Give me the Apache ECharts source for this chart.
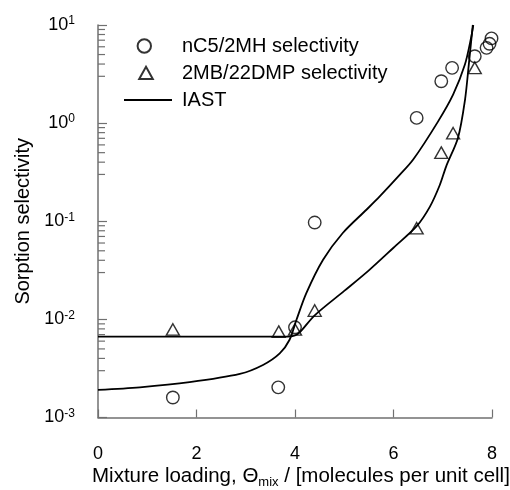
<!DOCTYPE html>
<html>
<head>
<meta charset="utf-8">
<script src="https://cdn.jsdelivr.net/npm/echarts@6/dist/echarts.min.js"></script>
<style>
  html, body { margin: 0; padding: 0; background: #fff; }
  #chart { width: 510px; height: 490px; }
</style>
</head>
<body>
<div id="chart"></div>
<script>
const FONT = '"Liberation Sans", Arial, Helvetica, sans-serif';

// Measured sorption selectivities (open symbols)
const nc5Loading     = [1.52, 3.66, 4.00, 4.40, 6.47, 6.97, 7.19, 7.65, 7.89, 7.95, 7.99];
const nc5Selectivity = [0.0016, 0.00203, 0.0083, 0.097, 1.13, 2.67, 3.66, 4.8, 5.85, 6.43, 7.3];
const mbLoading      = [1.52, 3.67, 4.00, 4.40, 6.47, 6.97, 7.21, 7.65];
const mbSelectivity  = [0.0079, 0.0075, 0.0079, 0.0123, 0.085, 0.50, 0.79, 3.66];

// IAST predictions
const iastNc5Loading     = [0, 0.85, 1.86, 2.88, 3.35, 3.69, 3.89, 4.03, 4.23, 4.57, 4.97, 5.45, 5.72, 6.13, 6.40, 6.90, 7.21, 7.45, 7.58, 7.62];
const iastNc5Selectivity = [0.00191, 0.00203, 0.00229, 0.00278, 0.00343, 0.0045, 0.0062, 0.0099, 0.0185, 0.0405, 0.0759, 0.131, 0.179, 0.298, 0.425, 1.03, 1.95, 3.95, 7.6, 10];
const iastMbLoading      = [0, 3.85, 4.00, 4.10, 4.40, 5.00, 5.50, 6.00, 6.47, 6.74, 6.94, 7.07, 7.31, 7.45, 7.53, 7.61];
const iastMbSelectivity  = [0.00667, 0.00667, 0.00685, 0.0074, 0.0110, 0.0195, 0.0316, 0.0537, 0.089, 0.141, 0.234, 0.363, 0.71, 1.7, 4.0, 10];

// Axis ticks
const xTicks = [0, 2, 4, 6, 8];
const yDecades = [0.001, 0.01, 0.1, 1, 10];
const minorFactors = [3, 4, 5, 6, 7, 8, 9];

const zip = (xs, ys) => xs.map((x, i) => [x, ys[i]]);

const minorTicks = [];
yDecades.slice(0, -1).forEach(d => minorFactors.forEach(f => minorTicks.push([0, d * f])));

const axisGrey = '#707070';

// Legend icons span the full 48x14 icon box (leading moveTos fix the bounds)
const circleIcon = 'path://M0,0 M48,14 M13.6,7 A6.7,6.7 0 1 1 27,7 A6.7,6.7 0 1 1 13.6,7 Z';
const triangleIcon = 'path://M0,0 M48,14 M22,0.8 L28.8,13 L15.2,13 Z';
const lineIcon = 'path://M0,0 M48,14 M0,6.1 H48 V7.9 H0 Z';

const chart = echarts.init(document.getElementById('chart'), null, { renderer: 'canvas' });

chart.setOption({
  animation: false,
  backgroundColor: '#fff',
  textStyle: { fontFamily: FONT, color: '#000' },
  grid: { left: 98, right: 18, top: 25, bottom: 72.5 },
  legend: {
    orient: 'vertical',
    left: 118,
    top: 31,
    itemWidth: 48,
    itemHeight: 14,
    itemGap: 7,
    data: [
      { name: 'nC5/2MH selectivity', icon: circleIcon },
      { name: '2MB/22DMP selectivity', icon: triangleIcon },
      { name: 'IAST', icon: lineIcon, itemStyle: { color: '#000', borderWidth: 0 } }
    ],
    textStyle: { fontSize: 20, fontFamily: FONT, color: '#000', padding: [0, 0, 0, 5] },
    selectedMode: false
  },
  xAxis: {
    type: 'value',
    min: xTicks[0],
    max: xTicks[xTicks.length - 1],
    interval: xTicks[1] - xTicks[0],
    axisLine: { lineStyle: { color: axisGrey, width: 1.5 } },
    axisTick: { inside: true, length: 8, lineStyle: { color: axisGrey, width: 1.2 } },
    axisLabel: { fontSize: 18, fontFamily: FONT, color: '#000', margin: 28 },
    splitLine: { show: false }
  },
  yAxis: {
    type: 'log',
    logBase: 10,
    min: yDecades[0],
    max: yDecades[yDecades.length - 1],
    name: 'Sorption selectivity',
    nameLocation: 'middle',
    nameGap: 65,
    nameTextStyle: { fontSize: 20, fontFamily: FONT, color: '#000' },
    axisLine: { show: true, lineStyle: { color: axisGrey, width: 1.5 } },
    axisTick: { inside: true, length: 9, lineStyle: { color: axisGrey, width: 1.2 } },
    axisLabel: {
      margin: 23,
      formatter: v => '{b|10}{s|' + Math.round(Math.log10(v)) + '}',
      rich: {
        b: { fontSize: 18, fontFamily: FONT, color: '#000', lineHeight: 20 },
        s: { fontSize: 12, fontFamily: FONT, color: '#000', lineHeight: 12, verticalAlign: 'top' }
      }
    },
    splitLine: { show: false }
  },
  graphic: [{
    type: 'text',
    left: 92,
    top: 463,
    style: {
      text: 'Mixture loading, Θ{sub|mix} / [molecules per unit cell]',
      fontSize: 20.5,
      fontFamily: FONT,
      fill: '#000',
      lineHeight: 26,
      rich: {
        sub: { fontSize: 13, fontFamily: FONT, fill: '#000', lineHeight: 13, verticalAlign: 'bottom' }
      }
    }
  }],
  series: [
    {
      name: 'IAST',
      type: 'line',
      data: zip(iastNc5Loading, iastNc5Selectivity),
      symbol: 'none',
      smooth: 0.3,
      lineStyle: { color: '#000', width: 1.8 },
      itemStyle: { color: '#000' },
      z: 2
    },
    {
      name: 'IAST',
      type: 'line',
      data: zip(iastMbLoading, iastMbSelectivity),
      symbol: 'none',
      smooth: 0.3,
      lineStyle: { color: '#000', width: 1.8 },
      itemStyle: { color: '#000' },
      z: 2
    },
    {
      name: 'nC5/2MH selectivity',
      type: 'scatter',
      data: zip(nc5Loading, nc5Selectivity),
      symbol: 'circle',
      symbolSize: 12.5,
      itemStyle: { color: 'rgba(0,0,0,0)', borderColor: '#000', borderWidth: 1.4 },
      z: 3
    },
    {
      name: '2MB/22DMP selectivity',
      type: 'scatter',
      data: zip(mbLoading, mbSelectivity),
      symbol: 'triangle',
      symbolSize: [13, 11.5],
      itemStyle: { color: 'rgba(0,0,0,0)', borderColor: '#000', borderWidth: 1.4 },
      z: 3
    },
    {
      // logarithmic minor ticks along the y axis
      type: 'custom',
      silent: true,
      clip: false,
      data: minorTicks,
      renderItem: (params, api) => {
        const p = api.coord([api.value(0), api.value(1)]);
        return {
          type: 'line',
          shape: { x1: p[0], y1: p[1], x2: p[0] + 7, y2: p[1] },
          style: { stroke: axisGrey, lineWidth: 1.2 }
        };
      },
      z: 1
    }
  ]
});
</script>
</body>
</html>
